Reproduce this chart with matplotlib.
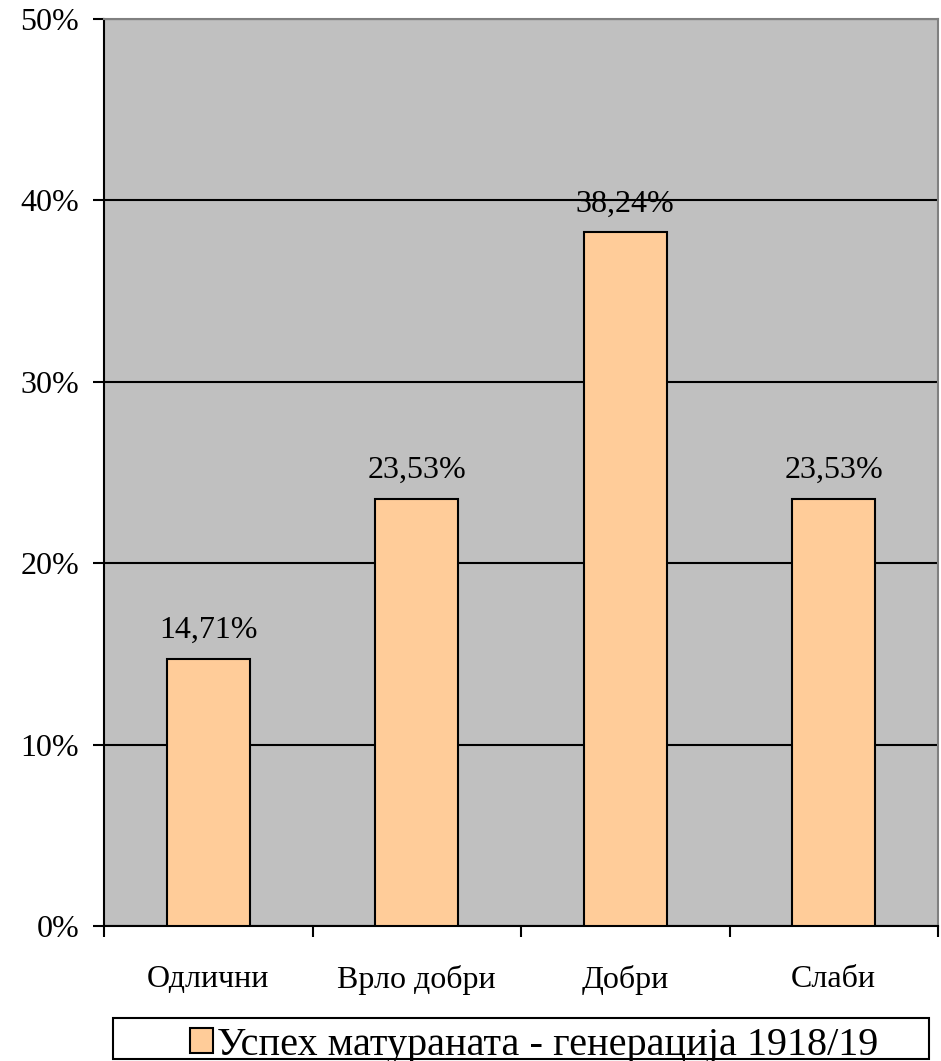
import matplotlib.pyplot as plt
from matplotlib.patches import Rectangle
from matplotlib.ticker import FuncFormatter

categories = ["Одлични", "Врло добри", "Добри", "Слаби"]
shares = [14.71, 23.53, 38.24, 23.53]
series_name = "Успех матураната - генерација 1918/19"

plt.rcParams["font.family"] = ["Liberation Serif", "DejaVu Serif"]

fig = plt.figure(figsize=(9.41, 10.61), dpi=100)
ax = fig.add_axes([104 / 941, 1 - 926 / 1061, (938 - 104) / 941, (926 - 19) / 1061])

ax.set_facecolor("#c0c0c0")
x = range(len(categories))
bars = ax.bar(x, shares, width=0.4, color="#ffcc99", edgecolor="black",
              linewidth=1.5, zorder=3, label=series_name)

for i, v in enumerate(shares):
    ax.annotate(f"{v:.2f}".replace(".", ",") + "%", (i, v),
                xytext=(0, 10), textcoords="offset points",
                ha="center", va="bottom", fontsize=23, zorder=4)

ax.set_ylim(0, 50)
ax.set_xlim(-0.5, len(categories) - 0.5)
ax.set_yticks(range(0, 51, 10))
ax.yaxis.set_major_formatter(FuncFormatter(lambda v, _: f"{v:.0f}%"))
ax.yaxis.grid(True, color="black", linewidth=1.5, zorder=1)
ax.set_axisbelow(True)

# category labels centred on bars, ticks at the boundaries between them
ax.set_xticks(list(x))
ax.set_xticklabels(categories)
ax.set_xticks([i - 0.5 for i in range(len(categories) + 1)], minor=True)
ax.tick_params(axis="x", which="major", length=0, pad=28, labelsize=23)
ax.tick_params(axis="x", which="minor", direction="out", length=8, width=1.5)
ax.tick_params(axis="y", direction="out", length=8, width=1.5, pad=10, labelsize=23)

for side in ("left", "bottom"):
    ax.spines[side].set_color("black")
    ax.spines[side].set_linewidth(1.5)
for side in ("top", "right"):
    ax.spines[side].set_color("#808080")
    ax.spines[side].set_linewidth(1.5)

# legend box sits at the very bottom edge of the figure
fig.add_artist(Rectangle((113 / 941, 1 - 1059 / 1061), (929 - 113) / 941, (1059 - 1018) / 1061,
                         transform=fig.transFigure, facecolor="white",
                         edgecolor="black", linewidth=1.5))
fig.legend(handles=[bars], labels=[series_name], loc="upper left",
           bbox_to_anchor=(190 / 941, 1 - 1027 / 1061), frameon=False,
           fontsize=29, handlelength=0.58, handleheight=0.58,
           handletextpad=0.1, borderpad=0, borderaxespad=0)

fig.savefig("out.png", dpi=100)
